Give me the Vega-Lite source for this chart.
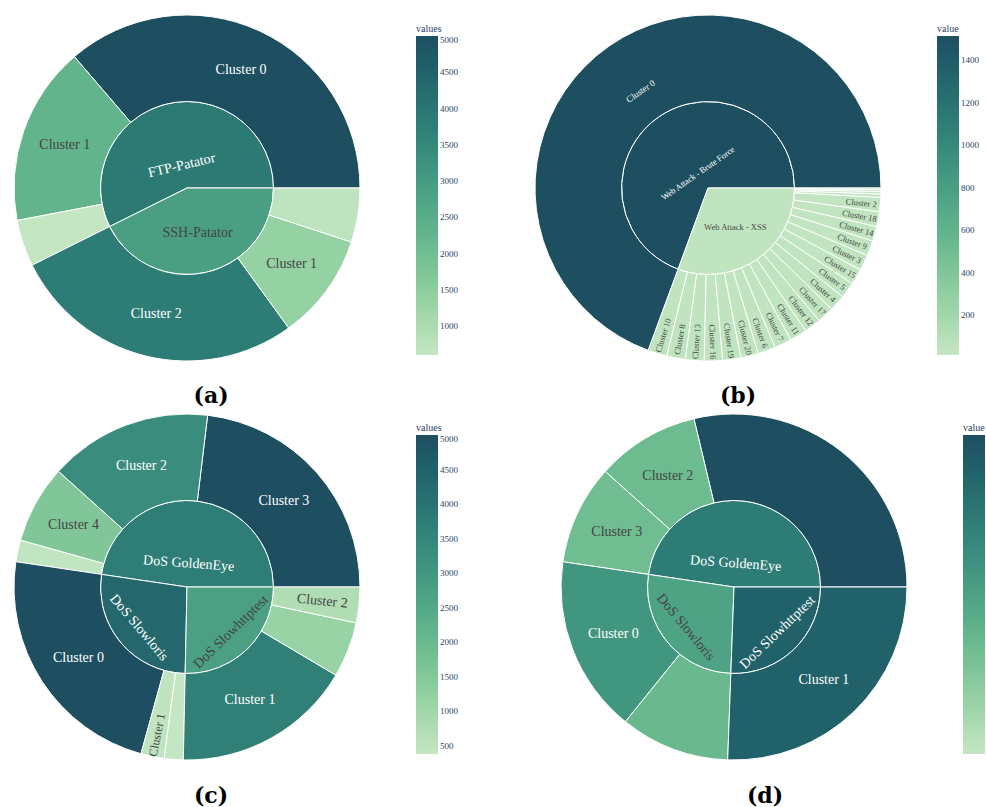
{
  "$schema": "https://vega.github.io/schema/vega-lite/v6.json",
  "padding": {"left": 12, "top": 13, "right": 0, "bottom": 0},
  "background": "#ffffff",
  "config": {"view": {"stroke": null}},
  "datasets": {
    "a": [
      {"ring": "inner", "parent": "", "label": "FTP-Patator", "value": 7904, "cval": 3880.1},
      {"ring": "inner", "parent": "", "label": "SSH-Patator", "value": 5876, "cval": 2871.2},
      {"ring": "outer", "parent": "FTP-Patator", "label": "Cluster 0", "value": 5000, "cval": 5000},
      {"ring": "outer", "parent": "FTP-Patator", "label": "Cluster 1", "value": 2304, "cval": 2304},
      {"ring": "outer", "parent": "FTP-Patator", "label": "", "value": 600, "cval": 600},
      {"ring": "outer", "parent": "SSH-Patator", "label": "Cluster 2", "value": 3809, "cval": 3809},
      {"ring": "outer", "parent": "SSH-Patator", "label": "Cluster 1", "value": 1370, "cval": 1370},
      {"ring": "outer", "parent": "SSH-Patator", "label": "", "value": 697, "cval": 697}
    ],
    "b": [
      {"ring": "inner", "parent": "", "label": "Web Attack - Brute Force", "value": 1514, "cval": 1514},
      {"ring": "inner", "parent": "", "label": "Web Attack - XSS", "value": 668, "cval": 33.6},
      {"ring": "outer", "parent": "Web Attack - Brute Force", "label": "Cluster 0", "value": 1514, "cval": 1514},
      {"ring": "outer", "parent": "Web Attack - XSS", "label": "Cluster 10", "value": 39, "cval": 39},
      {"ring": "outer", "parent": "Web Attack - XSS", "label": "Cluster 8", "value": 38, "cval": 38},
      {"ring": "outer", "parent": "Web Attack - XSS", "label": "Cluster 13", "value": 38, "cval": 38},
      {"ring": "outer", "parent": "Web Attack - XSS", "label": "Cluster 16", "value": 37, "cval": 37},
      {"ring": "outer", "parent": "Web Attack - XSS", "label": "Cluster 19", "value": 37, "cval": 37},
      {"ring": "outer", "parent": "Web Attack - XSS", "label": "Cluster 20", "value": 36, "cval": 36},
      {"ring": "outer", "parent": "Web Attack - XSS", "label": "Cluster 6", "value": 36, "cval": 36},
      {"ring": "outer", "parent": "Web Attack - XSS", "label": "Cluster 7", "value": 35, "cval": 35},
      {"ring": "outer", "parent": "Web Attack - XSS", "label": "Cluster 11", "value": 35, "cval": 35},
      {"ring": "outer", "parent": "Web Attack - XSS", "label": "Cluster 12", "value": 34, "cval": 34},
      {"ring": "outer", "parent": "Web Attack - XSS", "label": "Cluster 17", "value": 34, "cval": 34},
      {"ring": "outer", "parent": "Web Attack - XSS", "label": "Cluster 4", "value": 33, "cval": 33},
      {"ring": "outer", "parent": "Web Attack - XSS", "label": "Cluster 5", "value": 33, "cval": 33},
      {"ring": "outer", "parent": "Web Attack - XSS", "label": "Cluster 15", "value": 32, "cval": 32},
      {"ring": "outer", "parent": "Web Attack - XSS", "label": "Cluster 3", "value": 32, "cval": 32},
      {"ring": "outer", "parent": "Web Attack - XSS", "label": "Cluster 9", "value": 31, "cval": 31},
      {"ring": "outer", "parent": "Web Attack - XSS", "label": "Cluster 14", "value": 30, "cval": 30},
      {"ring": "outer", "parent": "Web Attack - XSS", "label": "Cluster 18", "value": 30, "cval": 30},
      {"ring": "outer", "parent": "Web Attack - XSS", "label": "Cluster 2", "value": 29, "cval": 29},
      {"ring": "outer", "parent": "Web Attack - XSS", "label": "", "value": 7, "cval": 7},
      {"ring": "outer", "parent": "Web Attack - XSS", "label": "", "value": 5, "cval": 5},
      {"ring": "outer", "parent": "Web Attack - XSS", "label": "", "value": 4, "cval": 4},
      {"ring": "outer", "parent": "Web Attack - XSS", "label": "", "value": 3, "cval": 3}
    ],
    "c": [
      {"ring": "inner", "parent": "", "label": "DoS GoldenEye", "value": 10318, "cval": 3739.2},
      {"ring": "inner", "parent": "", "label": "DoS Slowloris", "value": 5844, "cval": 4323.8},
      {"ring": "inner", "parent": "", "label": "DoS Slowhttptest", "value": 5485, "cval": 2743.6},
      {"ring": "outer", "parent": "DoS GoldenEye", "label": "Cluster 3", "value": 5000, "cval": 5000},
      {"ring": "outer", "parent": "DoS GoldenEye", "label": "Cluster 2", "value": 3301, "cval": 3301},
      {"ring": "outer", "parent": "DoS GoldenEye", "label": "Cluster 4", "value": 1579, "cval": 1579},
      {"ring": "outer", "parent": "DoS GoldenEye", "label": "", "value": 438, "cval": 438},
      {"ring": "outer", "parent": "DoS Slowloris", "label": "Cluster 0", "value": 4990, "cval": 4990},
      {"ring": "outer", "parent": "DoS Slowloris", "label": "Cluster 1", "value": 470, "cval": 470},
      {"ring": "outer", "parent": "DoS Slowloris", "label": "", "value": 384, "cval": 384},
      {"ring": "outer", "parent": "DoS Slowhttptest", "label": "Cluster 1", "value": 3643, "cval": 3643},
      {"ring": "outer", "parent": "DoS Slowhttptest", "label": "", "value": 1122, "cval": 1122},
      {"ring": "outer", "parent": "DoS Slowhttptest", "label": "Cluster 2", "value": 720, "cval": 720}
    ],
    "d": [
      {"ring": "inner", "parent": "", "label": "DoS GoldenEye", "value": 4767, "cval": 2107.1},
      {"ring": "inner", "parent": "", "label": "DoS Slowloris", "value": 2675, "cval": 1411.9},
      {"ring": "inner", "parent": "", "label": "DoS Slowhttptest", "value": 2558, "cval": 2558},
      {"ring": "outer", "parent": "DoS GoldenEye", "label": "", "value": 2872, "cval": 2872},
      {"ring": "outer", "parent": "DoS GoldenEye", "label": "Cluster 2", "value": 964, "cval": 964},
      {"ring": "outer", "parent": "DoS GoldenEye", "label": "Cluster 3", "value": 931, "cval": 931},
      {"ring": "outer", "parent": "DoS Slowloris", "label": "Cluster 0", "value": 1653, "cval": 1653},
      {"ring": "outer", "parent": "DoS Slowloris", "label": "", "value": 1022, "cval": 1022},
      {"ring": "outer", "parent": "DoS Slowhttptest", "label": "Cluster 1", "value": 2558, "cval": 2558}
    ]
  },
  "resolve": {"scale": {"color": "independent", "theta": "independent"}},
  "spacing": 5,
  "vconcat": [
    {
      "resolve": {"scale": {"color": "independent", "theta": "independent"}},
      "spacing": 75,
      "hconcat": [
        {
          "width": 346, "height": 346,
          "data": {"name": "a"},
          "title": {"text": "(a)", "orient": "bottom", "anchor": "middle", "frame": "group", "dx": 24, "offset": 23, "font": "DejaVu Serif", "fontSize": 22, "fontWeight": "bold", "color": "#000000"},
          "transform": [
            {"joinaggregate": [{"op": "sum", "field": "value", "as": "tot"}], "groupby": ["ring"]},
            {"stack": "value", "groupby": ["ring"], "as": ["v0", "v1"]},
            {"calculate": "(datum.v0 + datum.v1) / 2", "as": "mid"},
            {"calculate": "360 * datum.mid / datum.tot", "as": "deg"},
            {"calculate": "datum.deg < 180 ? 90 - datum.deg : 270 - datum.deg", "as": "tang"},
            {"calculate": "datum.deg > 90 && datum.deg < 270 ? 180 - datum.deg : -datum.deg", "as": "rad"}
          ],
          "layer": [
            {
              "transform": [{"filter": "datum.ring == 'inner'"}],
              "mark": {"type": "arc", "radius": 86.5, "radius2": 0, "stroke": "#ffffff", "strokeWidth": 1},
              "encoding": {
                "theta": {"field": "v0", "type": "quantitative", "scale": {"domain": [0, 13780], "range": [1.5707963268, -4.7123889804]}},
                "theta2": {"field": "v1"},
                "color": {"field": "cval", "type": "quantitative",
                  "scale": {"domain": [600, 1333.3, 2066.7, 2800, 3533.3, 4266.7, 5000], "range": ["#c4e6c3", "#96d2a4", "#6dbc90", "#4da284", "#36877a", "#266b6e", "#1d4f60"], "clamp": true},
                  "legend": {"title": "values", "orient": "none", "legendX": 402, "legendY": 9, "direction": "vertical", "gradientLength": 319, "gradientThickness": 22, "gradientStrokeWidth": 0, "values": [1000, 1500, 2000, 2500, 3000, 3500, 4000, 4500, 5000], "format": "d", "labelOverlap": false, "titleFont": "Liberation Serif", "titleFontSize": 10, "titleFontWeight": "normal", "titleColor": "#2a3f5f", "titlePadding": 2, "labelFont": "Liberation Serif", "labelFontSize": 9, "labelColor": "#2a3f5f", "labelOffset": 2}}
              }
            },
            {
              "transform": [{"filter": "datum.ring == 'outer'"}],
              "mark": {"type": "arc", "radius": 173, "radius2": 86.5, "stroke": "#ffffff", "strokeWidth": 1},
              "encoding": {
                "theta": {"field": "v0", "type": "quantitative"},
                "theta2": {"field": "v1"},
                "color": {"field": "cval", "type": "quantitative"}
              }
            },
            {
              "transform": [{"filter": "datum.ring == 'outer'"}],
              "mark": {"type": "text", "radius": 129.5, "font": "Liberation Serif", "fontSize": 14},
              "encoding": {
                "theta": {"field": "mid", "type": "quantitative", "stack": null},
                "text": {"field": "label"},
                "color": {"condition": {"test": "datum.cval > 2954", "value": "#ffffff"}, "value": "#444444"}
              }
            },
            {
              "transform": [{"filter": "datum.label == 'FTP-Patator'"}],
              "mark": {"type": "text", "radius": 23, "font": "Liberation Serif", "fontSize": 14},
              "encoding": {
                "theta": {"field": "mid", "type": "quantitative", "stack": null},
                "text": {"field": "label"},
                "angle": {"field": "tang", "type": "quantitative", "scale": null},
                "color": {"condition": {"test": "datum.cval > 2954", "value": "#ffffff"}, "value": "#444444"}
              }
            },
            {
              "transform": [{"filter": "datum.label == 'SSH-Patator'"}],
              "mark": {"type": "text", "radius": 46, "font": "Liberation Serif", "fontSize": 14},
              "encoding": {
                "theta": {"field": "mid", "type": "quantitative", "stack": null},
                "text": {"field": "label"},
                "color": {"condition": {"test": "datum.cval > 2954", "value": "#ffffff"}, "value": "#444444"}
              }
            }
          ]
        },
        {
          "width": 346, "height": 346,
          "data": {"name": "b"},
          "title": {"text": "(b)", "orient": "bottom", "anchor": "middle", "frame": "group", "dx": 30, "offset": 23, "font": "DejaVu Serif", "fontSize": 22, "fontWeight": "bold", "color": "#000000"},
          "transform": [
            {"joinaggregate": [{"op": "sum", "field": "value", "as": "tot"}], "groupby": ["ring"]},
            {"stack": "value", "groupby": ["ring"], "as": ["v0", "v1"]},
            {"calculate": "(datum.v0 + datum.v1) / 2", "as": "mid"},
            {"calculate": "360 * datum.mid / datum.tot", "as": "deg"},
            {"calculate": "datum.deg < 180 ? 90 - datum.deg : 270 - datum.deg", "as": "tang"},
            {"calculate": "datum.deg > 90 && datum.deg < 270 ? 180 - datum.deg : -datum.deg", "as": "rad"}
          ],
          "layer": [
            {
              "transform": [{"filter": "datum.ring == 'inner'"}],
              "mark": {"type": "arc", "radius": 86.5, "radius2": 0, "stroke": "#ffffff", "strokeWidth": 1},
              "encoding": {
                "theta": {"field": "v0", "type": "quantitative", "scale": {"domain": [0, 2182], "range": [1.5707963268, -4.7123889804]}},
                "theta2": {"field": "v1"},
                "color": {"field": "cval", "type": "quantitative",
                  "scale": {"domain": [14, 264, 514, 764, 1014, 1264, 1514], "range": ["#c4e6c3", "#96d2a4", "#6dbc90", "#4da284", "#36877a", "#266b6e", "#1d4f60"], "clamp": true},
                  "legend": {"title": "value", "orient": "none", "legendX": 402, "legendY": 9, "direction": "vertical", "gradientLength": 319, "gradientThickness": 22, "gradientStrokeWidth": 0, "values": [200, 400, 600, 800, 1000, 1200, 1400], "format": "d", "labelOverlap": false, "titleFont": "Liberation Serif", "titleFontSize": 10, "titleFontWeight": "normal", "titleColor": "#2a3f5f", "titlePadding": 2, "labelFont": "Liberation Serif", "labelFontSize": 9, "labelColor": "#2a3f5f", "labelOffset": 2}}
              }
            },
            {
              "transform": [{"filter": "datum.ring == 'outer'"}],
              "mark": {"type": "arc", "radius": 173, "radius2": 86.5, "stroke": "#ffffff", "strokeWidth": 1},
              "encoding": {
                "theta": {"field": "v0", "type": "quantitative"},
                "theta2": {"field": "v1"},
                "color": {"field": "cval", "type": "quantitative"}
              }
            },
            {
              "transform": [{"filter": "datum.parent == 'Web Attack - Brute Force'"}],
              "mark": {"type": "text", "radius": 118, "font": "Liberation Serif", "fontSize": 9},
              "encoding": {
                "theta": {"field": "mid", "type": "quantitative", "stack": null},
                "text": {"field": "label"},
                "angle": {"field": "tang", "type": "quantitative", "scale": null},
                "color": {"condition": {"test": "datum.cval > 816", "value": "#ffffff"}, "value": "#444444"}
              }
            },
            {
              "transform": [{"filter": "datum.parent == 'Web Attack - XSS'"}],
              "mark": {"type": "text", "radius": 154, "font": "Liberation Serif", "fontSize": 8.5},
              "encoding": {
                "theta": {"field": "mid", "type": "quantitative", "stack": null},
                "text": {"field": "label"},
                "angle": {"field": "rad", "type": "quantitative", "scale": null},
                "color": {"condition": {"test": "datum.cval > 816", "value": "#ffffff"}, "value": "#444444"}
              }
            },
            {
              "transform": [{"filter": "datum.label == 'Web Attack - Brute Force'"}],
              "mark": {"type": "text", "radius": 18, "font": "Liberation Serif", "fontSize": 8.5},
              "encoding": {
                "theta": {"field": "mid", "type": "quantitative", "stack": null},
                "text": {"field": "label"},
                "angle": {"field": "tang", "type": "quantitative", "scale": null},
                "color": {"condition": {"test": "datum.cval > 816", "value": "#ffffff"}, "value": "#444444"}
              }
            },
            {
              "transform": [{"filter": "datum.label == 'Web Attack - XSS'"}],
              "mark": {"type": "text", "radius": 47.7, "font": "Liberation Serif", "fontSize": 8.5},
              "encoding": {
                "theta": {"field": "mid", "type": "quantitative", "stack": null},
                "text": {"field": "label"},
                "color": {"condition": {"test": "datum.cval > 816", "value": "#ffffff"}, "value": "#444444"}
              }
            }
          ]
        }
      ]
    },
    {
      "resolve": {"scale": {"color": "independent", "theta": "independent"}},
      "spacing": 101,
      "hconcat": [
        {
          "width": 346, "height": 346,
          "data": {"name": "c"},
          "title": {"text": "(c)", "orient": "bottom", "anchor": "middle", "frame": "group", "dx": 24, "offset": 24, "font": "DejaVu Serif", "fontSize": 22, "fontWeight": "bold", "color": "#000000"},
          "transform": [
            {"joinaggregate": [{"op": "sum", "field": "value", "as": "tot"}], "groupby": ["ring"]},
            {"stack": "value", "groupby": ["ring"], "as": ["v0", "v1"]},
            {"calculate": "(datum.v0 + datum.v1) / 2", "as": "mid"},
            {"calculate": "360 * datum.mid / datum.tot", "as": "deg"},
            {"calculate": "datum.deg < 180 ? 90 - datum.deg : 270 - datum.deg", "as": "tang"},
            {"calculate": "datum.deg > 90 && datum.deg < 270 ? 180 - datum.deg : -datum.deg", "as": "rad"}
          ],
          "layer": [
            {
              "transform": [{"filter": "datum.ring == 'inner'"}],
              "mark": {"type": "arc", "radius": 86.5, "radius2": 0, "stroke": "#ffffff", "strokeWidth": 1},
              "encoding": {
                "theta": {"field": "v0", "type": "quantitative", "scale": {"domain": [0, 21647], "range": [1.5707963268, -4.7123889804]}},
                "theta2": {"field": "v1"},
                "color": {"field": "cval", "type": "quantitative",
                  "scale": {"domain": [384, 1153.3, 1922.7, 2692, 3461.3, 4230.7, 5000], "range": ["#c4e6c3", "#96d2a4", "#6dbc90", "#4da284", "#36877a", "#266b6e", "#1d4f60"], "clamp": true},
                  "legend": {"title": "values", "orient": "none", "legendX": 402, "legendY": 9, "direction": "vertical", "gradientLength": 319, "gradientThickness": 22, "gradientStrokeWidth": 0, "values": [500, 1000, 1500, 2000, 2500, 3000, 3500, 4000, 4500, 5000], "format": "d", "labelOverlap": false, "titleFont": "Liberation Serif", "titleFontSize": 10, "titleFontWeight": "normal", "titleColor": "#2a3f5f", "titlePadding": 2, "labelFont": "Liberation Serif", "labelFontSize": 9, "labelColor": "#2a3f5f", "labelOffset": 2}}
              }
            },
            {
              "transform": [{"filter": "datum.ring == 'outer'"}],
              "mark": {"type": "arc", "radius": 173, "radius2": 86.5, "stroke": "#ffffff", "strokeWidth": 1},
              "encoding": {
                "theta": {"field": "v0", "type": "quantitative"},
                "theta2": {"field": "v1"},
                "color": {"field": "cval", "type": "quantitative"}
              }
            },
            {
              "transform": [{"filter": "datum.ring == 'outer' && !(datum.parent == 'DoS Slowhttptest' && datum.label == 'Cluster 2') && !(datum.parent == 'DoS Slowloris' && datum.label == 'Cluster 1')"}],
              "mark": {"type": "text", "radius": 129.5, "font": "Liberation Serif", "fontSize": 14},
              "encoding": {
                "theta": {"field": "mid", "type": "quantitative", "stack": null},
                "text": {"field": "label"},
                "color": {"condition": {"test": "datum.cval > 2854", "value": "#ffffff"}, "value": "#444444"}
              }
            },
            {
              "transform": [{"filter": "datum.parent == 'DoS Slowhttptest' && datum.label == 'Cluster 2'"}],
              "mark": {"type": "text", "radius": 136, "font": "Liberation Serif", "fontSize": 14},
              "encoding": {
                "theta": {"field": "mid", "type": "quantitative", "stack": null},
                "text": {"field": "label"},
                "angle": {"field": "rad", "type": "quantitative", "scale": null},
                "color": {"condition": {"test": "datum.cval > 2854", "value": "#ffffff"}, "value": "#444444"}
              }
            },
            {
              "transform": [{"filter": "datum.parent == 'DoS Slowloris' && datum.label == 'Cluster 1'"}],
              "mark": {"type": "text", "radius": 151, "font": "Liberation Serif", "fontSize": 12},
              "encoding": {
                "theta": {"field": "mid", "type": "quantitative", "stack": null},
                "text": {"field": "label"},
                "angle": {"field": "rad", "type": "quantitative", "scale": null},
                "color": {"condition": {"test": "datum.cval > 2854", "value": "#ffffff"}, "value": "#444444"}
              }
            },
            {
              "transform": [{"filter": "datum.label == 'DoS GoldenEye'"}],
              "mark": {"type": "text", "radius": 23.5, "font": "Liberation Serif", "fontSize": 14},
              "encoding": {
                "theta": {"field": "mid", "type": "quantitative", "stack": null},
                "text": {"field": "label"},
                "angle": {"field": "tang", "type": "quantitative", "scale": null},
                "color": {"condition": {"test": "datum.cval > 2854", "value": "#ffffff"}, "value": "#444444"}
              }
            },
            {
              "transform": [{"filter": "datum.ring == 'inner' && datum.label != 'DoS GoldenEye'"}],
              "mark": {"type": "text", "radius": 63, "font": "Liberation Serif", "fontSize": 14},
              "encoding": {
                "theta": {"field": "mid", "type": "quantitative", "stack": null},
                "text": {"field": "label"},
                "angle": {"field": "tang", "type": "quantitative", "scale": null},
                "color": {"condition": {"test": "datum.cval > 2854", "value": "#ffffff"}, "value": "#444444"}
              }
            }
          ]
        },
        {
          "width": 346, "height": 346,
          "data": {"name": "d"},
          "title": {"text": "(d)", "orient": "bottom", "anchor": "middle", "frame": "group", "dx": 31, "offset": 24, "font": "DejaVu Serif", "fontSize": 22, "fontWeight": "bold", "color": "#000000"},
          "transform": [
            {"joinaggregate": [{"op": "sum", "field": "value", "as": "tot"}], "groupby": ["ring"]},
            {"stack": "value", "groupby": ["ring"], "as": ["v0", "v1"]},
            {"calculate": "(datum.v0 + datum.v1) / 2", "as": "mid"},
            {"calculate": "360 * datum.mid / datum.tot", "as": "deg"},
            {"calculate": "datum.deg < 180 ? 90 - datum.deg : 270 - datum.deg", "as": "tang"},
            {"calculate": "datum.deg > 90 && datum.deg < 270 ? 180 - datum.deg : -datum.deg", "as": "rad"}
          ],
          "layer": [
            {
              "transform": [{"filter": "datum.ring == 'inner'"}],
              "mark": {"type": "arc", "radius": 86.5, "radius2": 0, "stroke": "#ffffff", "strokeWidth": 1},
              "encoding": {
                "theta": {"field": "v0", "type": "quantitative", "scale": {"domain": [0, 10000], "range": [1.5707963268, -4.7123889804]}},
                "theta2": {"field": "v1"},
                "color": {"field": "cval", "type": "quantitative",
                  "scale": {"domain": [0, 478.7, 957.3, 1436, 1914.7, 2393.3, 2872], "range": ["#c4e6c3", "#96d2a4", "#6dbc90", "#4da284", "#36877a", "#266b6e", "#1d4f60"], "clamp": true},
                  "legend": {"title": "value", "orient": "none", "legendX": 402, "legendY": 9, "direction": "vertical", "gradientLength": 319, "gradientThickness": 22, "gradientStrokeWidth": 0, "values": [1436], "labelExpr": "''", "titleFont": "Liberation Serif", "titleFontSize": 10, "titleFontWeight": "normal", "titleColor": "#2a3f5f", "titlePadding": 2}}
              }
            },
            {
              "transform": [{"filter": "datum.ring == 'outer'"}],
              "mark": {"type": "arc", "radius": 173, "radius2": 86.5, "stroke": "#ffffff", "strokeWidth": 1},
              "encoding": {
                "theta": {"field": "v0", "type": "quantitative"},
                "theta2": {"field": "v1"},
                "color": {"field": "cval", "type": "quantitative"}
              }
            },
            {
              "transform": [{"filter": "datum.ring == 'outer'"}],
              "mark": {"type": "text", "radius": 129.5, "font": "Liberation Serif", "fontSize": 14},
              "encoding": {
                "theta": {"field": "mid", "type": "quantitative", "stack": null},
                "text": {"field": "label"},
                "color": {"condition": {"test": "datum.cval > 1536", "value": "#ffffff"}, "value": "#444444"}
              }
            },
            {
              "transform": [{"filter": "datum.label == 'DoS GoldenEye'"}],
              "mark": {"type": "text", "radius": 23.5, "font": "Liberation Serif", "fontSize": 14},
              "encoding": {
                "theta": {"field": "mid", "type": "quantitative", "stack": null},
                "text": {"field": "label"},
                "angle": {"field": "tang", "type": "quantitative", "scale": null},
                "color": {"condition": {"test": "datum.cval > 1536", "value": "#ffffff"}, "value": "#444444"}
              }
            },
            {
              "transform": [{"filter": "datum.ring == 'inner' && datum.label != 'DoS GoldenEye'"}],
              "mark": {"type": "text", "radius": 63, "font": "Liberation Serif", "fontSize": 14},
              "encoding": {
                "theta": {"field": "mid", "type": "quantitative", "stack": null},
                "text": {"field": "label"},
                "angle": {"field": "tang", "type": "quantitative", "scale": null},
                "color": {"condition": {"test": "datum.cval > 1536", "value": "#ffffff"}, "value": "#444444"}
              }
            }
          ]
        }
      ]
    }
  ]
}
